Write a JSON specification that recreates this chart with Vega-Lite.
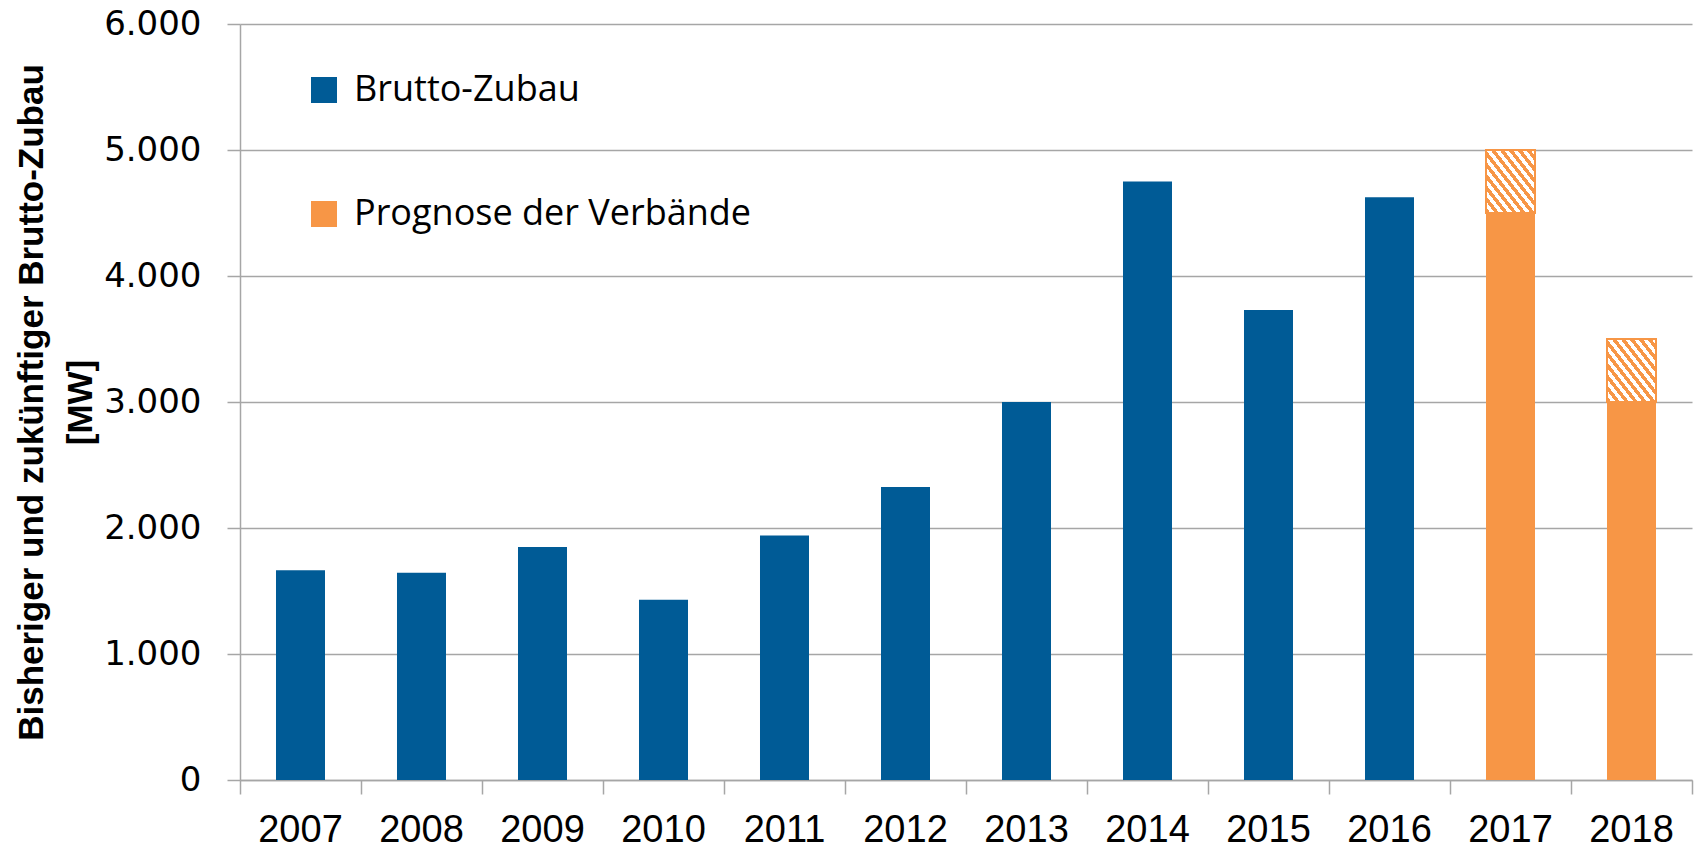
{
  "$schema": "https://vega.github.io/schema/vega-lite/v6.json",
  "autosize": {"type": "none"},
  "padding": {"left": 240, "top": 24, "right": 6, "bottom": 74},
  "width": 1452,
  "height": 756,
  "background": "white",
  "data": {
    "values": [
      {"Jahr": "2007", "Wert": 1665, "Max": null, "Serie": "Brutto-Zubau"},
      {"Jahr": "2008", "Wert": 1645, "Max": null, "Serie": "Brutto-Zubau"},
      {"Jahr": "2009", "Wert": 1850, "Max": null, "Serie": "Brutto-Zubau"},
      {"Jahr": "2010", "Wert": 1430, "Max": null, "Serie": "Brutto-Zubau"},
      {"Jahr": "2011", "Wert": 1940, "Max": null, "Serie": "Brutto-Zubau"},
      {"Jahr": "2012", "Wert": 2325, "Max": null, "Serie": "Brutto-Zubau"},
      {"Jahr": "2013", "Wert": 3000, "Max": null, "Serie": "Brutto-Zubau"},
      {"Jahr": "2014", "Wert": 4750, "Max": null, "Serie": "Brutto-Zubau"},
      {"Jahr": "2015", "Wert": 3730, "Max": null, "Serie": "Brutto-Zubau"},
      {"Jahr": "2016", "Wert": 4625, "Max": null, "Serie": "Brutto-Zubau"},
      {"Jahr": "2017", "Wert": 4500, "Max": 5000, "Serie": "Prognose der Verbände"},
      {"Jahr": "2018", "Wert": 3000, "Max": 3500, "Serie": "Prognose der Verbände"}
    ]
  },
  "config": {
    "view": {"stroke": null},
    "axis": {"domainColor": "#A6A6A6", "domainWidth": 1.5, "tickColor": "#A6A6A6", "tickWidth": 1.5, "gridColor": "#A6A6A6", "gridWidth": 1.5}
  },
  "encoding": {
    "x": {
      "field": "Jahr", "type": "nominal",
      "scale": {"paddingInner": 0, "paddingOuter": 0},
      "axis": {
        "title": null, "labelAngle": 0, "bandPosition": 1, "tickExtra": true,
        "tickSize": 14, "labelPadding": 17, "labelDx": -60.5,
        "labelFont": "Liberation Sans", "labelFontSize": 38, "labelColor": "black",
        "labelAlign": "center"
      }
    }
  },
  "layer": [
    {
      "mark": {"type": "bar", "width": {"band": 0.405}},
      "encoding": {
        "y": {
          "field": "Wert", "type": "quantitative",
          "scale": {"domain": [0, 6000], "nice": false},
          "axis": {
            "values": [0, 1000, 2000, 3000, 4000, 5000, 6000],
            "labelExpr": "replace(format(datum.value, ','), ',', '.')",
            "grid": true, "tickSize": 13, "labelPadding": 26,
            "labelFont": "DejaVu Sans", "labelFontSize": 34, "labelColor": "black",
            "title": ["Bisheriger und zukünftiger Brutto-Zubau", "[MW]"],
            "titleFont": "Liberation Sans", "titleFontSize": 35, "titleFontWeight": "bold",
            "titleColor": "black", "titleLineHeight": 49,
            "titleX": -209, "titleY": 378, "titleBaseline": "middle", "titleAngle": -90,
            "titleLimit": 0
          }
        },
        "color": {
          "field": "Serie", "type": "nominal",
          "scale": {"domain": ["Brutto-Zubau", "Prognose der Verbände"], "range": ["#005B96", "#F79646"]},
          "legend": {
            "title": null, "orient": "none", "legendX": 66, "legendY": 48,
            "symbolType": "square", "symbolSize": 676, "symbolStrokeWidth": 0,
            "rowPadding": 88, "labelOffset": 12, "labelLimit": 0,
            "labelFont": "Open Sans", "labelFontSize": 36, "labelColor": "black"
          }
        }
      }
    },
    {
      "transform": [{"filter": "datum.Max != null"}],
      "mark": {
        "type": "bar", "width": {"band": 0.405},
        "stroke": "#F79646", "strokeWidth": 2,
        "fill": {
          "gradient": "linear", "x1": 0, "y1": 1, "x2": 1, "y2": 0,
          "stops": [
            {"offset": 0, "color": "#F79646"}, {"offset": 0.04545, "color": "#F79646"}, {"offset": 0.04545, "color": "#ffffff"}, {"offset": 0.09091, "color": "#ffffff"},
            {"offset": 0.09091, "color": "#F79646"}, {"offset": 0.13636, "color": "#F79646"}, {"offset": 0.13636, "color": "#ffffff"}, {"offset": 0.18182, "color": "#ffffff"},
            {"offset": 0.18182, "color": "#F79646"}, {"offset": 0.22727, "color": "#F79646"}, {"offset": 0.22727, "color": "#ffffff"}, {"offset": 0.27273, "color": "#ffffff"},
            {"offset": 0.27273, "color": "#F79646"}, {"offset": 0.31818, "color": "#F79646"}, {"offset": 0.31818, "color": "#ffffff"}, {"offset": 0.36364, "color": "#ffffff"},
            {"offset": 0.36364, "color": "#F79646"}, {"offset": 0.40909, "color": "#F79646"}, {"offset": 0.40909, "color": "#ffffff"}, {"offset": 0.45455, "color": "#ffffff"},
            {"offset": 0.45455, "color": "#F79646"}, {"offset": 0.5, "color": "#F79646"}, {"offset": 0.5, "color": "#ffffff"}, {"offset": 0.54545, "color": "#ffffff"},
            {"offset": 0.54545, "color": "#F79646"}, {"offset": 0.59091, "color": "#F79646"}, {"offset": 0.59091, "color": "#ffffff"}, {"offset": 0.63636, "color": "#ffffff"},
            {"offset": 0.63636, "color": "#F79646"}, {"offset": 0.68182, "color": "#F79646"}, {"offset": 0.68182, "color": "#ffffff"}, {"offset": 0.72727, "color": "#ffffff"},
            {"offset": 0.72727, "color": "#F79646"}, {"offset": 0.77273, "color": "#F79646"}, {"offset": 0.77273, "color": "#ffffff"}, {"offset": 0.81818, "color": "#ffffff"},
            {"offset": 0.81818, "color": "#F79646"}, {"offset": 0.86364, "color": "#F79646"}, {"offset": 0.86364, "color": "#ffffff"}, {"offset": 0.90909, "color": "#ffffff"},
            {"offset": 0.90909, "color": "#F79646"}, {"offset": 0.95455, "color": "#F79646"}, {"offset": 0.95455, "color": "#ffffff"}, {"offset": 1, "color": "#ffffff"}
          ]
        }
      },
      "encoding": {
        "y": {"field": "Wert", "type": "quantitative"},
        "y2": {"field": "Max"}
      }
    }
  ]
}
